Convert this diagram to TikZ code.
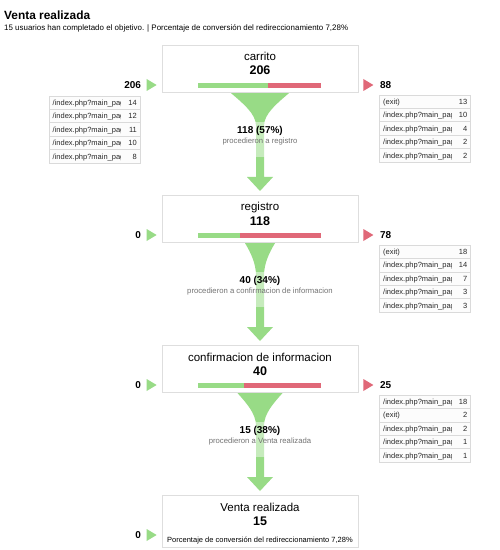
\documentclass[tikz,border=0pt]{standalone}
\usepackage{fontspec}
\setmainfont{Liberation Sans}
\usetikzlibrary{calc}
\definecolor{fgreen}{RGB}{152,219,134}
\definecolor{fred}{RGB}{224,104,120}
\definecolor{boxgray}{RGB}{222,222,222}
\definecolor{cellgray}{RGB}{218,218,218}
\definecolor{cellfill}{RGB}{252,252,252}
\definecolor{labgray}{RGB}{115,115,115}
\definecolor{celltext}{RGB}{40,40,40}
\newcommand\fs[1]{\fontsize{#1bp}{#1bp}\selectfont}
\newcommand\ip{/index.php?main\_pag}
\newcommand\sidetable[4]{%
  \foreach \lab/\val [count=\i from 0] in {#3} {
    \pgfmathsetmacro\ry{#2+13.4*\i}
    \draw[cellgray, line width=0.6bp, fill=cellfill] (#1,\ry) rectangle ++(91,13.4);
    \begin{scope}
      \clip (#1,\ry) rectangle ++(71.5,13.4);
      \node[cell, anchor=base west] (#4l\i) at ($(#1,\ry)+(3.5,9.5)$) {\lab};
    \end{scope}
    \node[cell, anchor=base east] (#4v\i) at ($(#1,\ry)+(88,9.5)$) {\val};
  }}
\newcommand\funnel[3]{%
  \fill[fgreen] ($(#1.south)+(-#3,0.4)$) .. controls +({0.4*#3},10) and +(0,-12) .. ($(#1.south)+(-4,33)$)
    -- ($(#2.north)+(-4,-18)$) -- ($(#2.north)+(-13,-18)$) -- ($(#2.north)+(0,-4)$)
    -- ($(#2.north)+(13,-18)$) -- ($(#2.north)+(4,-18)$) -- ($(#1.south)+(4,33)$)
    .. controls +(0,-12) and +({-0.4*#3},10) .. ($(#1.south)+(#3,0.4)$) -- cycle;
  \fill[white, fill opacity=0.45] ($(#1.south)+(-14,29)$) rectangle ($(#1.south)+(14,64)$);
}
\newcommand\stagebar[2]{%
  \fill[fgreen] ($(#1.north)+(-62,38)$) rectangle ($(#1.north)+(-62+123*#2,43)$);
  \fill[fred] ($(#1.north)+(-62+123*#2,38)$) rectangle ($(#1.north)+(61,43)$);
}
\newcommand\intri[1]{%
  \fill[fgreen] ($(#1.north west)+(-15,34)$) -- ($(#1.north west)+(-5,40)$) -- ($(#1.north west)+(-15,46)$) -- cycle;}
\newcommand\outtri[1]{%
  \fill[fred] ($(#1.north east)+(5,34)$) -- ($(#1.north east)+(15,40)$) -- ($(#1.north east)+(5,46)$) -- cycle;}
\begin{document}
\begin{tikzpicture}[x=1bp,y=-1bp,
  stagebox/.style={draw=boxgray, line width=0.7bp, fill=white, minimum width=196bp, inner sep=0pt, anchor=north},
  stagename/.style={font={\fs{11.5}}, inner sep=0pt, anchor=base},
  stagecount/.style={font={\bfseries\fs{12.5}}, inner sep=0pt, anchor=base},
  sidenum/.style={font={\bfseries\fs{10}}, inner sep=0pt},
  flowcount/.style={font={\bfseries\fs{10}}, inner sep=0pt, anchor=base},
  flowtext/.style={font={\fs{7.7}}, text=labgray, inner sep=0pt, anchor=base},
  cell/.style={font={\fs{7.5}}, text=celltext, inner sep=0pt},
]
\useasboundingbox[fill=white] (0,0) rectangle (500,550);

% heading
\node[anchor=base west, inner sep=0pt, font={\bfseries\fs{11.9}}] (title) at (4,20) {Venta realizada};
\node[anchor=base west, inner sep=0pt, font={\fs{7.95}}] (subtitle) at (4,30.8) {15 usuarios han completado el objetivo. | Porcentaje de conversión del redireccionamiento 7,28\%};

% stage boxes
\node[stagebox, minimum height=47bp] (b1) at (260,45) {};
\node[stagebox, minimum height=47bp] (b2) at (260,195) {};
\node[stagebox, minimum height=47bp] (b3) at (260,345) {};
\node[stagebox, minimum height=52bp] (b4) at (260,495) {};

% funnels
\funnel{b1}{b2}{29}
\funnel{b2}{b3}{15}
\funnel{b3}{b4}{22.5}

% stage texts
\node[stagename] (n1) at ($(b1.north)+(0,16)$) {carrito};
\node[stagecount] (c1) at ($(b1.north)+(0,30)$) {206};
\node[stagename] (n2) at ($(b2.north)+(0,16)$) {registro};
\node[stagecount] (c2) at ($(b2.north)+(0,30)$) {118};
\node[stagename] (n3) at ($(b3.north)+(0,16)$) {confirmacion de informacion};
\node[stagecount] (c3) at ($(b3.north)+(0,30)$) {40};
\node[stagename] (n4) at ($(b4.north)+(0,16)$) {Venta realizada};
\node[stagecount] (c4) at ($(b4.north)+(0,30)$) {15};
\node[anchor=base, inner sep=0pt, font={\fs{7.5}}] (p4) at ($(b4.north)+(0,47.3)$) {Porcentaje de conversión del redireccionamiento 7,28\%};

% bars
\stagebar{b1}{0.573}
\stagebar{b2}{0.339}
\stagebar{b3}{0.375}

% flow labels
\node[flowcount] (f1) at ($(b1.south)+(0,41)$) {118 (57\%)};
\node[flowtext] (g1) at ($(b1.south)+(0,50.5)$) {procedieron a registro};
\node[flowcount] (f2) at ($(b2.south)+(0,41)$) {40 (34\%)};
\node[flowtext] (g2) at ($(b2.south)+(0,50.5)$) {procedieron a confirmacion de informacion};
\node[flowcount] (f3) at ($(b3.south)+(0,41)$) {15 (38\%)};
\node[flowtext] (g3) at ($(b3.south)+(0,50.5)$) {procedieron a Venta realizada};

% entrances
\intri{b1}\intri{b2}\intri{b3}\intri{b4}
\node[sidenum, anchor=base east] (i1) at ($(b1.north west)+(-20.5,43.5)$) {206};
\node[sidenum, anchor=base east] (i2) at ($(b2.north west)+(-20.5,43.5)$) {0};
\node[sidenum, anchor=base east] (i3) at ($(b3.north west)+(-20.5,43.5)$) {0};
\node[sidenum, anchor=base east] (i4) at ($(b4.north west)+(-20.5,43.5)$) {0};

% exits
\outtri{b1}\outtri{b2}\outtri{b3}
\node[sidenum, anchor=base west] (o1) at ($(b1.north east)+(21.5,43.5)$) {88};
\node[sidenum, anchor=base west] (o2) at ($(b2.north east)+(21.5,43.5)$) {78};
\node[sidenum, anchor=base west] (o3) at ($(b3.north east)+(21.5,43.5)$) {25};

% tables
\sidetable{49}{96}{\ip/14,\ip/12,\ip/11,\ip/10,\ip/8}{tl}
\sidetable{379.5}{95}{(exit)/13,\ip/10,\ip/4,\ip/2,\ip/2}{ta}
\sidetable{379.5}{245}{(exit)/18,\ip/14,\ip/7,\ip/3,\ip/3}{tb}
\sidetable{379.5}{395}{\ip/18,(exit)/2,\ip/2,\ip/1,\ip/1}{tc}
\end{tikzpicture}
\end{document}
